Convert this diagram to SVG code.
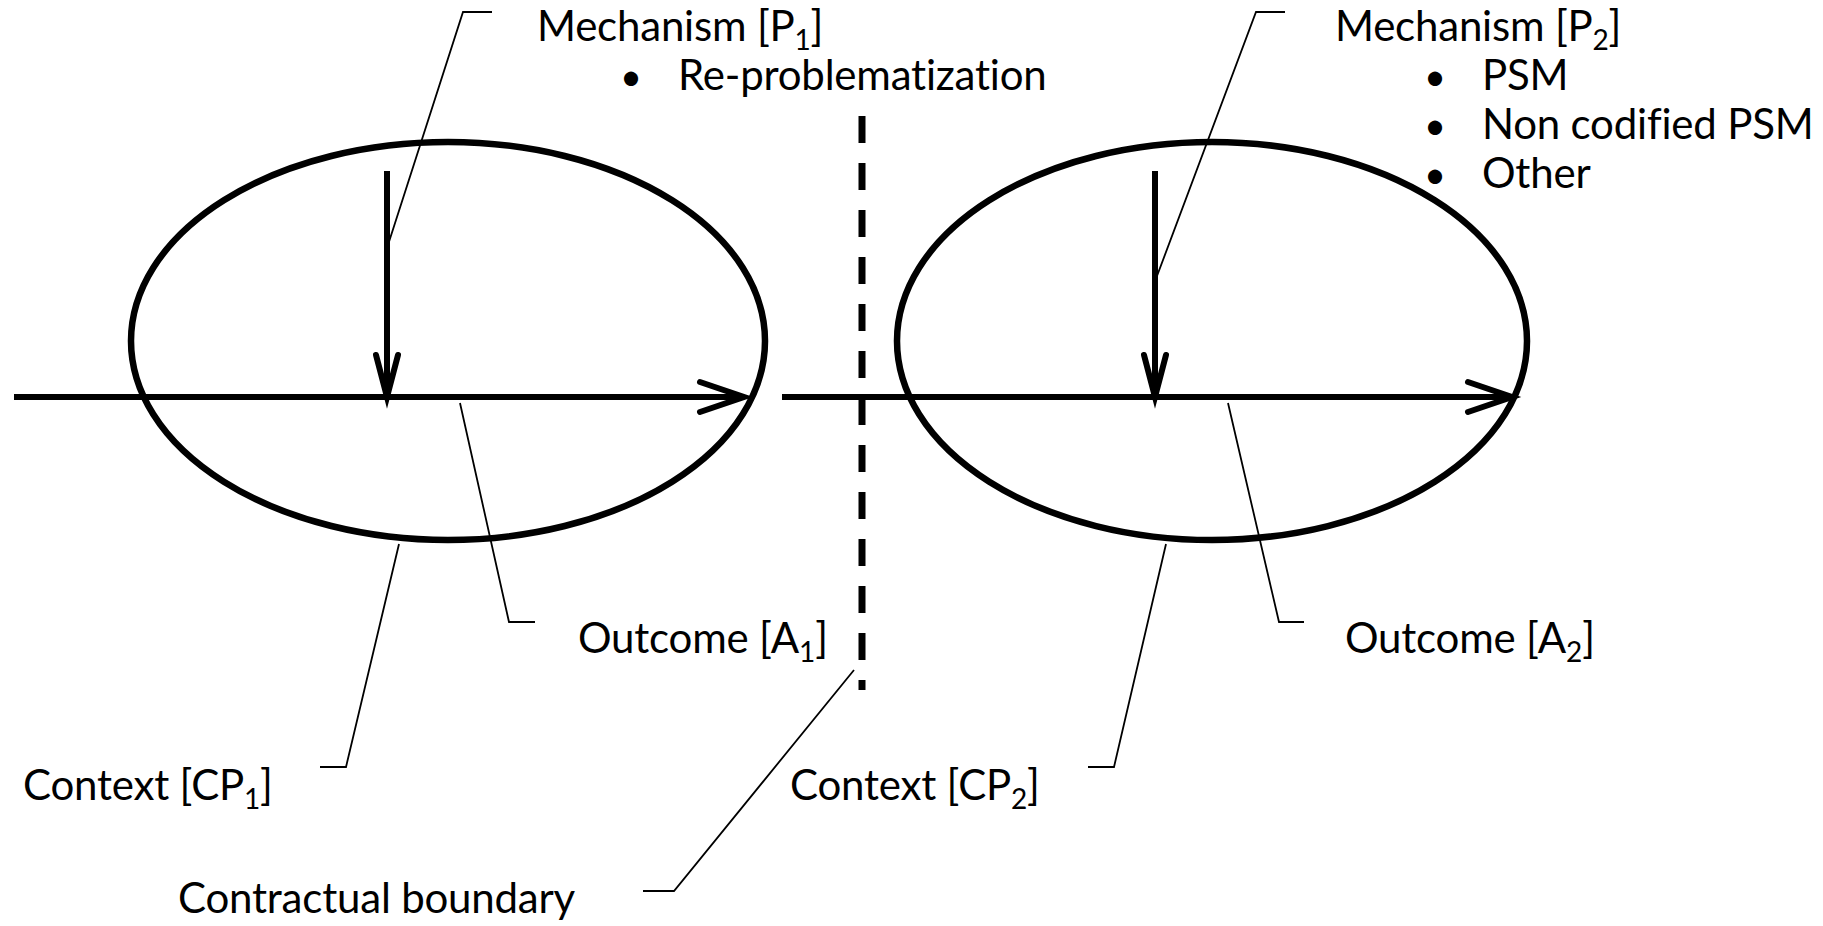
<svg xmlns="http://www.w3.org/2000/svg" width="1823" height="926" viewBox="0 0 1823 926">
<style>
.bg{fill:#fff}
.ell{fill:none;stroke:#000;stroke-width:6.5}
.flow{fill:none;stroke:#000;stroke-width:6;stroke-linecap:butt}
.head{fill:none;stroke:#000;stroke-width:6;stroke-linecap:round;stroke-linejoin:miter}
.lead{fill:none;stroke:#000;stroke-width:1.8}
.dash{fill:none;stroke:#000;stroke-width:7;stroke-dasharray:27 20}
text{font-family:Lato,"Open Sans","Liberation Sans",sans-serif;font-size:42px;letter-spacing:-0.2px;fill:#000}
.sub{font-size:28px}
.bul{font-size:38px}
</style>
<rect class="bg" x="0" y="0" width="1823" height="926"/>
<g id="context1">
<ellipse class="ell" cx="448" cy="341" rx="317" ry="199"/>
</g>
<g id="context2">
<ellipse class="ell" cx="1212" cy="341" rx="315" ry="199"/>
</g>
<g id="boundary">
<line class="dash" x1="862" y1="116" x2="862" y2="690"/>
</g>
<g id="connectors">
<line class="flow" x1="14" y1="397" x2="742" y2="397"/>
<path class="head" d="M700,382 L744,397 L700,412"/>
<line class="flow" x1="387" y1="171" x2="387" y2="394"/>
<path class="head" d="M376,355 L387,397 L398,355"/>
<line class="flow" x1="782" y1="397" x2="1510" y2="397"/>
<path class="head" d="M1468,382 L1512,397 L1468,412"/>
<line class="flow" x1="1155" y1="171" x2="1155" y2="394"/>
<path class="head" d="M1144,355 L1155,397 L1166,355"/>
<polyline class="lead" points="492,12 463,12 387,248"/>
<polyline class="lead" points="1285,12 1256,12 1157,276"/>
<polyline class="lead" points="460,403 509,622 535,622"/>
<polyline class="lead" points="1228,403 1279,622 1304,622"/>
<polyline class="lead" points="399,544 346,767 320,767"/>
<polyline class="lead" points="1166,544 1114,767 1088,767"/>
<polyline class="lead" points="854,670 674,891 643,891"/>
</g>
<g id="mechanism1">
<text x="537" y="41">Mechanism [P<tspan class="sub" dy="9">1</tspan><tspan dy="-9">]</tspan></text>
<text class="bul" x="620" y="90">•</text>
<text x="678" y="90">Re-problematization</text>
</g>
<g id="mechanism2">
<text x="1335" y="41">Mechanism [P<tspan class="sub" dy="9">2</tspan><tspan dy="-9">]</tspan></text>
<text class="bul" x="1424" y="90">•</text>
<text x="1482" y="90">PSM</text>
<text class="bul" x="1424" y="139">•</text>
<text x="1482" y="139">Non codified PSM</text>
<text class="bul" x="1424" y="188">•</text>
<text x="1482" y="188">Other</text>
</g>
<g id="outcome1">
<text x="578" y="653">Outcome [A<tspan class="sub" dy="9">1</tspan><tspan dy="-9">]</tspan></text>
</g>
<g id="outcome2">
<text x="1345" y="653">Outcome [A<tspan class="sub" dy="9">2</tspan><tspan dy="-9">]</tspan></text>
</g>
<g id="context1-label">
<text x="23" y="800">Context [CP<tspan class="sub" dy="9">1</tspan><tspan dy="-9">]</tspan></text>
</g>
<g id="context2-label">
<text x="790" y="800">Context [CP<tspan class="sub" dy="9">2</tspan><tspan dy="-9">]</tspan></text>
</g>
<g id="boundary-label">
<text x="178" y="913">Contractual boundary</text>
</g>
</svg>
